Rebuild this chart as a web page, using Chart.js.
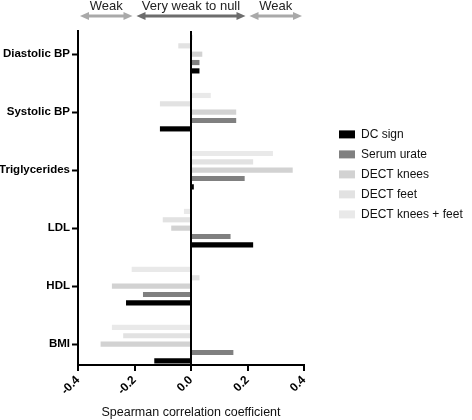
<!DOCTYPE html>
<html><head><meta charset="utf-8">
<script src="https://cdn.jsdelivr.net/npm/chart.js@4/dist/chart.umd.min.js"></script>
<style>html,body{margin:0;padding:0;background:#fff}</style>
</head><body>
<canvas id="c" width="472" height="420"></canvas>
<script>
const categories = ['Diastolic BP','Systolic BP','Triglycerides','LDL','HDL','BMI'];
const dcSign        = [0.03, -0.11, 0.01, 0.22, -0.23, -0.13];
const serumUrate    = [0.03, 0.16, 0.19, 0.14, -0.17, 0.15];
const dectKnees     = [0.04, 0.16, 0.36, -0.07, -0.28, -0.32];
const dectFeet      = [-0.045, -0.11, 0.22, -0.10, 0.03, -0.24];
const dectKneesFeet = [0.007, 0.07, 0.29, -0.025, -0.21, -0.28];
const xTicks = [-0.4, -0.2, 0, 0.2, 0.4];
const bandLabels = ['Weak', 'Very weak to null', 'Weak'];
const bandFrom = [-0.4, -0.2, 0.2];
const bandTo = [-0.2, 0.2, 0.4];

const FONT = "'Liberation Sans', Arial, Helvetica, sans-serif";
const bandColors = ['#a9a9a9', '#6d6d6d', '#a9a9a9'];

const bandPlugin = {
  id: 'bands',
  beforeLayout(chart) {
    const lg = chart.legend;
    if (lg && !lg._fixedW) {
      const f = lg.fit.bind(lg);
      lg.fit = function () { f(); this.width = 141; };
      lg._fixedW = true;
    }
  },
  afterDraw(chart) {
    const ctx = chart.ctx, xs = chart.scales.x;
    ctx.save();
    bandLabels.forEach((lab, i) => {
      const x0 = xs.getPixelForValue(bandFrom[i]) + 2;
      const x1 = xs.getPixelForValue(bandTo[i]) - 2;
      const yA = 16, hl = 9, hh = 4, sw = 1.4;
      ctx.fillStyle = bandColors[i];
      ctx.beginPath();
      ctx.moveTo(x0, yA);
      ctx.lineTo(x0 + hl, yA - hh); ctx.lineTo(x0 + hl, yA - sw);
      ctx.lineTo(x1 - hl, yA - sw); ctx.lineTo(x1 - hl, yA - hh);
      ctx.lineTo(x1, yA);
      ctx.lineTo(x1 - hl, yA + hh); ctx.lineTo(x1 - hl, yA + sw);
      ctx.lineTo(x0 + hl, yA + sw); ctx.lineTo(x0 + hl, yA + hh);
      ctx.closePath(); ctx.fill();
      ctx.fillStyle = '#222';
      ctx.font = '13px ' + FONT;
      ctx.textAlign = 'center'; ctx.textBaseline = 'middle';
      ctx.fillText(lab, (x0 + x1) / 2, 6.5);
    });
    ctx.restore();
  }
};

new Chart(document.getElementById('c'), {
  type: 'bar',
  data: {
    labels: categories,
    datasets: [
      { label: 'DECT knees + feet', data: dectKneesFeet, backgroundColor: '#e9e9e9' },
      { label: 'DECT feet', data: dectFeet, backgroundColor: '#e2e2e2' },
      { label: 'DECT knees', data: dectKnees, backgroundColor: '#d2d2d2' },
      { label: 'Serum urate', data: serumUrate, backgroundColor: '#808080' },
      { label: 'DC sign', data: dcSign, backgroundColor: '#000000' }
    ]
  },
  options: {
    indexAxis: 'y',
    responsive: false,
    animation: false,
    devicePixelRatio: 1,
    datasets: { bar: { categoryPercentage: 0.72, barPercentage: 0.62 } },
    layout: { padding: { top: 31, left: 0, right: 0, bottom: 0 } },
    scales: {
      x: {
        type: 'linear', min: -0.4, max: 0.4,
        afterBuildTicks: s => { s.ticks = xTicks.map(v => ({ value: v })); },
        afterFit: s => { s.height = 55; },
        ticks: {
          callback: v => Number(v).toFixed(1),
          minRotation: 45, maxRotation: 45, autoSkip: false,
          font: { family: FONT, size: 12, weight: 'bold' }, color: '#000', padding: 2
        },
        grid: {
          color: c => (c.tick && c.tick.value === 0) ? '#000' : 'rgba(0,0,0,0)',
          lineWidth: 2, tickColor: '#000', tickLength: 6, tickWidth: 2, drawOnChartArea: true
        },
        border: { color: '#000', width: 2 },
        title: { display: true, text: 'Spearman correlation coefficient',
          font: { family: FONT, size: 12.5 }, color: '#111', padding: { top: 4, bottom: 0 } }
      },
      y: {
        type: 'category', offset: true,
        afterBuildTicks: s => { s._startValue = -0.4; s._valueRange = categories.length - 1 + 0.76; },
        afterFit: s => { s.width = 78; },
        ticks: { font: { family: FONT, size: 11.5, weight: 'bold' }, color: '#000', padding: 2 },
        grid: { offset: false, drawOnChartArea: false, tickLength: 6, tickColor: '#000', tickWidth: 2 },
        border: { color: '#000', width: 2 }
      },
      yr: {
        type: 'linear', position: 'right', display: true,
        afterFit: s => { s.width = 27; },
        ticks: { display: false }, grid: { display: false }, border: { display: false }
      }
    },
    plugins: {
      tooltip: { enabled: false },
      legend: {
        position: 'right', align: 'start', reverse: true,
        title: { display: true, text: ' ', padding: { top: 75, bottom: 0 } },
        labels: { boxWidth: 16, boxHeight: 8, padding: 8, color: '#111',
          font: { family: FONT, size: 12 } }
      }
    }
  },
  plugins: [bandPlugin]
});
</script>
</body></html>
